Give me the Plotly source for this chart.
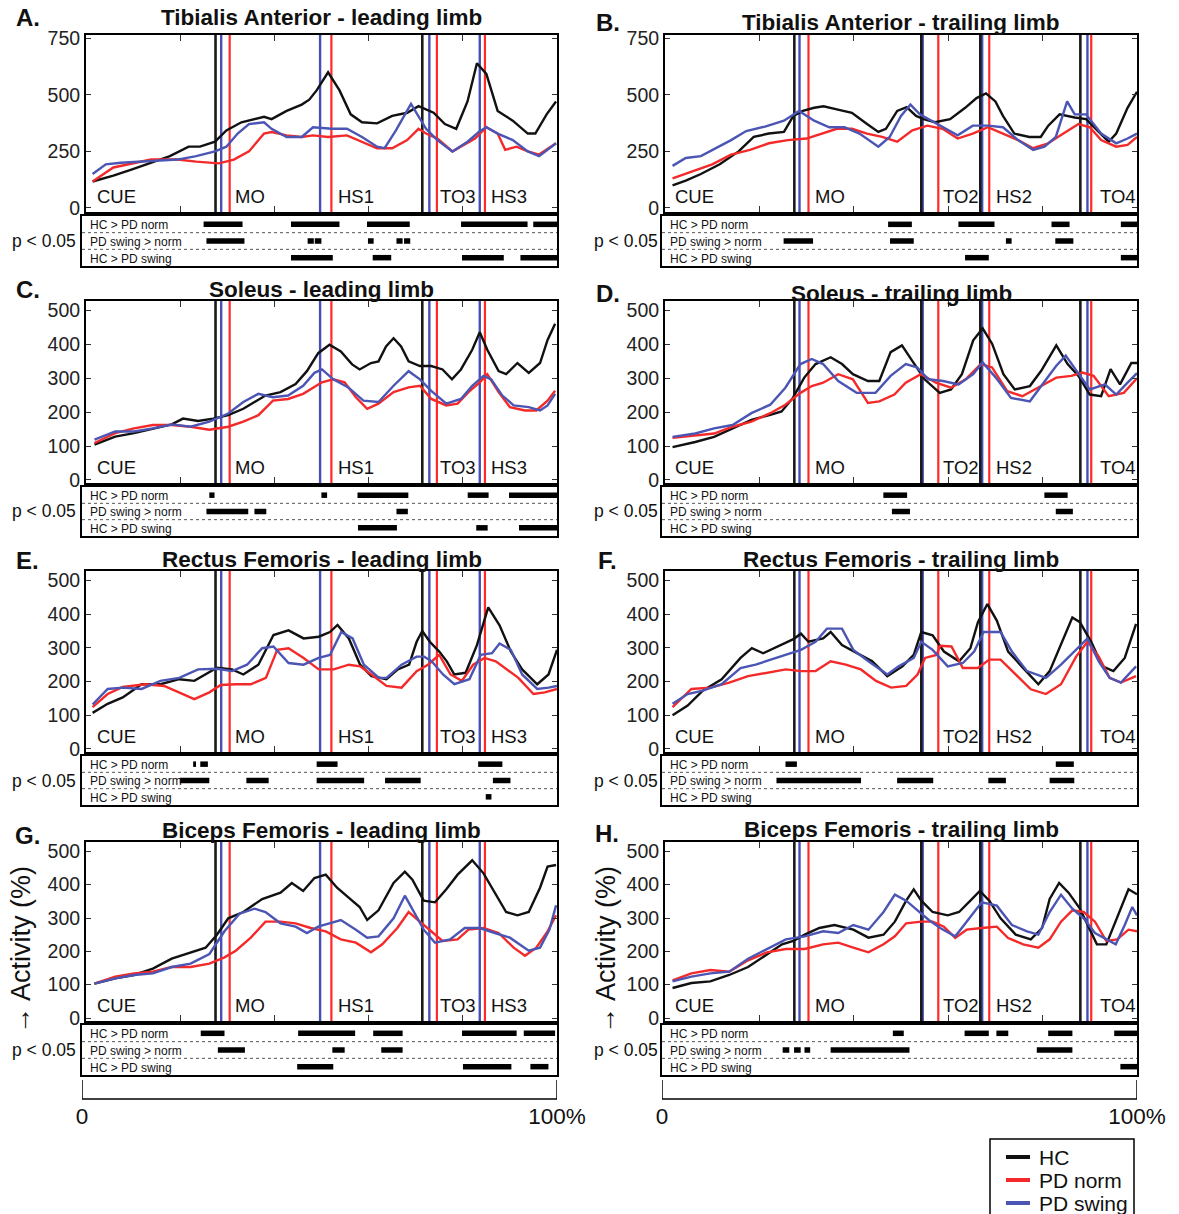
import plotly.graph_objects as go

W, H = 1179, 1214

# ---------------- data ----------------
SERIES_NAMES = ["HC", "PD norm", "PD swing"]
SERIES_COLORS = ["#111111", "#f42a2a", "#4b55b4"]

PANEL_LETTERS = ["A.", "B.", "C.", "D.", "E.", "F.", "G.", "H."]
PANEL_TITLES = [
    "Tibialis Anterior - leading limb", "Tibialis Anterior - trailing limb",
    "Soleus - leading limb", "Soleus - trailing limb",
    "Rectus Femoris - leading limb", "Rectus Femoris - trailing limb",
    "Biceps Femoris - leading limb", "Biceps Femoris - trailing limb",
]
TICKS_TA = [0, 250, 500, 750]
TICKS_OTHER = [0, 100, 200, 300, 400, 500]
SIG_LABELS = ["HC > PD norm", "PD swing > norm", "HC > PD swing"]
BRACKET_TICKS = [0, 100]
BRACKET_LABELS = ["0", "100%"]

# event markers (percent of movement)
LEAD_BLACK = [27.5, 71.4]
LEAD_BLUE = [28.7, 49.7, 72.9, 83.6]
LEAD_RED = [30.5, 52.1, 74.5, 84.7]
LEAD_LABELS = ["CUE", "MO", "HS1", "TO3", "HS3"]
LEAD_LABEL_X = [2.0, 31.2, 53.0, 74.8, 85.6]
TRAIL_BLACK = [27.4, 54.3, 66.8, 88.0]
TRAIL_BLUE = [28.5, 54.6, 67.2, 89.5]
TRAIL_RED = [30.4, 57.9, 68.7, 90.3]
TRAIL_LABELS = ["CUE", "MO", "TO2", "HS2", "TO4"]
TRAIL_LABEL_X = [1.6, 31.4, 58.4, 69.8, 91.8]

# ---- A: Tibialis Anterior leading
A_X_HC = [1.4, 5.8, 9.8, 13.8, 17.8, 21.8, 24.2, 27.4, 29.8, 33.0, 37.8, 39.4, 42.6, 45.8, 47.4, 49.0, 51.4, 53.8, 56.2, 58.6, 61.8, 65.0, 68.2, 70.6, 71.4, 73.8, 76.2, 78.6, 81.0, 83.0, 85.0, 87.4, 90.6, 93.8, 95.4, 97.8, 99.8]
A_HC = [117, 143, 171, 200, 229, 271, 271, 293, 343, 379, 403, 393, 429, 457, 479, 521, 600, 521, 414, 379, 374, 407, 421, 450, 443, 421, 371, 350, 471, 640, 593, 429, 386, 329, 329, 414, 471]
A_X_NORM = [1.4, 5.8, 13.8, 19.4, 23.4, 28.2, 31.4, 34.6, 37.8, 39.4, 42.6, 45.8, 48.2, 51.4, 55.4, 58.6, 61.8, 65.0, 68.2, 70.6, 72.2, 74.6, 77.8, 80.2, 82.6, 85.0, 87.4, 89.0, 91.4, 93.8, 96.2, 99.8]
A_NORM = [117, 179, 214, 214, 205, 197, 214, 250, 329, 336, 321, 314, 321, 314, 321, 293, 264, 264, 300, 350, 329, 307, 250, 279, 307, 357, 329, 257, 271, 250, 236, 286]
A_X_SWING = [1.4, 4.2, 7.4, 13.8, 19.4, 23.4, 27.4, 29.8, 32.2, 34.6, 37.8, 39.4, 42.6, 45.8, 48.2, 52.2, 55.4, 58.6, 61.8, 63.4, 65.8, 69.0, 70.6, 72.2, 74.6, 77.8, 81.0, 83.4, 85.0, 87.4, 90.6, 93.8, 96.2, 99.8]
A_SWING = [150, 193, 200, 207, 214, 229, 250, 271, 329, 371, 379, 350, 314, 314, 357, 350, 350, 314, 271, 264, 343, 460, 407, 350, 300, 250, 293, 336, 357, 329, 300, 250, 229, 286]
A_SIG_1 = [(25.6, 33.8), (44.0, 54.2), (60.0, 69.0), (79.8, 93.8), (95.0, 100)]
A_SIG_2 = [(26.2, 34.2), (47.5, 48.8), (49.0, 50.4), (60.2, 61.4), (66.2, 67.5), (67.8, 69.1)]
A_SIG_3 = [(44.0, 52.8), (61.2, 65.1), (80.0, 88.8), (92.3, 100)]

# ---- B: Tibialis Anterior trailing
B_X_HC = [1.6, 4.4, 7.6, 11.6, 15.6, 18.8, 22.0, 25.2, 27.2, 29.2, 31.6, 33.6, 36.4, 39.6, 42.8, 45.2, 46.8, 49.2, 51.2, 53.2, 54.8, 57.2, 60.4, 63.6, 66.0, 68.0, 70.0, 71.6, 74.0, 77.2, 79.6, 81.2, 83.6, 86.8, 89.2, 91.6, 94.0, 95.6, 98.0, 100]
B_HC = [100, 121, 150, 193, 250, 314, 329, 336, 407, 429, 443, 450, 436, 421, 371, 336, 350, 429, 446, 407, 393, 379, 393, 443, 486, 507, 471, 407, 329, 314, 314, 364, 414, 400, 393, 343, 293, 329, 443, 514]
B_X_NORM = [1.6, 6.0, 10.0, 14.0, 18.0, 22.0, 26.0, 30.0, 33.2, 36.4, 39.6, 42.8, 46.0, 49.2, 52.4, 55.6, 58.8, 62.0, 65.2, 68.4, 71.6, 74.8, 78.0, 81.2, 84.4, 87.6, 90.0, 92.4, 95.6, 98.0, 100]
B_NORM = [131, 164, 193, 236, 257, 286, 300, 307, 329, 350, 350, 329, 314, 293, 343, 364, 350, 307, 329, 357, 329, 300, 264, 286, 329, 371, 357, 300, 271, 279, 314]
B_X_SWING = [1.6, 4.4, 7.6, 10.8, 14.0, 17.2, 21.2, 25.2, 28.4, 31.6, 34.8, 38.0, 41.2, 45.2, 47.6, 50.0, 52.0, 54.0, 56.4, 58.8, 62.0, 65.2, 68.4, 71.6, 74.8, 78.0, 80.4, 82.8, 85.2, 86.8, 89.2, 92.4, 95.6, 98.0, 100]
B_SWING = [186, 221, 229, 264, 300, 340, 360, 386, 429, 386, 357, 357, 329, 271, 314, 407, 457, 414, 386, 357, 321, 364, 364, 357, 300, 257, 271, 314, 471, 414, 414, 329, 286, 307, 329]
B_SIG_1 = [(47.6, 52.6), (62.4, 70.0), (82.0, 85.8), (96.6, 100)]
B_SIG_2 = [(25.6, 31.8), (48.0, 53.0), (72.4, 73.6), (82.8, 86.6)]
B_SIG_3 = [(63.8, 68.8), (96.6, 100)]

# ---- C: Soleus leading
C_X_HC = [1.8, 6.2, 10.2, 14.2, 18.2, 20.6, 23.8, 27.0, 30.2, 33.4, 38.1, 41.3, 44.5, 46.9, 49.3, 51.7, 54.1, 56.5, 58.1, 60.5, 62.1, 63.7, 65.3, 66.9, 68.5, 70.9, 73.3, 75.7, 77.7, 79.6, 82.0, 83.6, 85.2, 87.6, 89.2, 91.6, 94.0, 96.4, 98.0, 99.6]
C_HC = [104, 128, 138, 152, 164, 181, 174, 181, 191, 210, 249, 259, 283, 321, 374, 399, 379, 341, 326, 345, 350, 394, 418, 394, 350, 336, 336, 326, 297, 326, 384, 436, 384, 321, 312, 345, 316, 345, 413, 461]
C_X_NORM = [1.8, 6.2, 10.2, 14.2, 18.2, 22.2, 26.2, 30.2, 33.4, 36.6, 39.7, 42.9, 46.1, 50.1, 52.5, 54.9, 57.3, 59.7, 62.1, 65.3, 68.5, 70.9, 73.3, 76.5, 78.9, 81.2, 83.6, 85.2, 87.6, 90.0, 93.2, 95.6, 98.0, 99.6]
C_NORM = [109, 138, 152, 162, 162, 157, 148, 157, 172, 191, 234, 239, 254, 288, 297, 288, 244, 210, 225, 259, 273, 278, 239, 220, 225, 259, 288, 312, 259, 215, 205, 205, 234, 263]
C_X_SWING = [1.8, 6.2, 10.2, 14.2, 18.2, 22.2, 26.2, 30.2, 33.4, 36.6, 39.7, 42.9, 46.1, 48.5, 50.1, 52.5, 55.7, 58.9, 62.1, 65.3, 68.5, 70.9, 73.3, 76.5, 79.6, 82.0, 84.4, 86.0, 88.4, 90.8, 94.0, 96.4, 98.0, 99.6]
C_SWING = [119, 143, 143, 152, 164, 157, 172, 196, 230, 254, 244, 249, 278, 316, 326, 297, 273, 234, 230, 278, 321, 297, 263, 225, 239, 278, 307, 297, 249, 220, 215, 205, 220, 254]
C_SIG_1 = [(26.8, 27.9), (50.4, 51.6), (58.0, 68.7), (81.2, 85.6), (89.9, 100)]
C_SIG_2 = [(26.2, 35.0), (36.3, 38.8), (66.2, 68.6)]
C_SIG_3 = [(58.1, 66.3), (83.0, 85.4), (92.0, 100)]

# ---- D: Soleus trailing
D_X_HC = [1.6, 6.4, 10.4, 14.3, 18.3, 22.3, 24.7, 27.1, 29.5, 31.9, 35.1, 37.5, 39.8, 43.0, 45.4, 47.8, 50.2, 52.6, 55.0, 58.2, 60.6, 62.9, 65.3, 67.3, 69.3, 71.7, 74.1, 77.3, 79.7, 82.9, 85.3, 87.6, 90.0, 92.4, 94.4, 96.4, 98.8, 100]
D_HC = [97, 112, 127, 152, 177, 192, 202, 242, 302, 342, 362, 342, 312, 292, 292, 377, 397, 347, 297, 257, 267, 312, 412, 447, 402, 312, 267, 277, 322, 397, 342, 307, 252, 247, 327, 282, 345, 345]
D_X_NORM = [1.6, 6.4, 10.4, 14.3, 18.3, 22.3, 25.5, 28.7, 31.1, 33.5, 36.7, 39.8, 43.0, 45.4, 48.6, 51.0, 54.2, 57.4, 60.6, 63.7, 66.9, 69.3, 72.5, 75.7, 78.9, 82.9, 86.1, 88.4, 90.8, 94.0, 97.2, 100]
D_NORM = [124, 132, 137, 157, 172, 197, 222, 257, 277, 287, 312, 297, 227, 232, 252, 287, 312, 287, 272, 297, 342, 332, 262, 247, 272, 302, 307, 317, 307, 247, 257, 300]
D_X_SWING = [1.6, 6.4, 10.4, 14.3, 18.3, 22.3, 25.5, 28.7, 31.1, 33.5, 36.7, 40.6, 44.6, 47.8, 51.0, 53.4, 55.8, 58.9, 62.2, 65.3, 67.3, 70.1, 73.3, 77.3, 80.5, 82.9, 84.9, 87.6, 90.0, 93.2, 95.6, 98.0, 100]
D_SWING = [127, 137, 152, 162, 197, 222, 272, 342, 357, 342, 292, 257, 257, 307, 342, 332, 297, 292, 282, 312, 347, 302, 242, 232, 292, 337, 367, 312, 267, 282, 252, 287, 315]
D_SIG_1 = [(46.6, 51.6), (80.5, 85.4)]
D_SIG_2 = [(48.4, 52.2), (82.9, 86.5)]
D_SIG_3 = []

# ---- E: Rectus Femoris leading
E_X_HC = [1.4, 4.6, 7.8, 11.8, 15.8, 19.8, 23.0, 25.4, 27.8, 31.0, 33.4, 36.6, 39.8, 43.0, 46.2, 49.4, 51.8, 53.4, 55.8, 58.2, 60.6, 63.8, 66.2, 68.6, 70.2, 71.4, 73.0, 75.0, 76.6, 78.2, 80.6, 83.0, 85.4, 87.8, 90.2, 92.6, 95.8, 98.2, 100]
E_HC = [107, 134, 153, 192, 192, 207, 202, 221, 241, 236, 221, 250, 338, 352, 328, 333, 347, 368, 328, 250, 216, 207, 236, 250, 318, 350, 318, 289, 260, 221, 226, 308, 420, 367, 289, 236, 192, 221, 294]
E_X_NORM = [1.4, 4.6, 7.8, 12.6, 16.6, 19.8, 23.0, 26.2, 28.6, 31.8, 35.0, 38.2, 40.6, 43.0, 46.2, 49.4, 52.6, 55.8, 58.2, 60.6, 63.8, 67.0, 70.2, 72.6, 75.0, 77.4, 79.8, 82.2, 84.6, 87.0, 89.4, 91.8, 95.0, 97.4, 100]
E_NORM = [124, 163, 184, 192, 187, 168, 148, 168, 190, 192, 192, 211, 294, 299, 270, 236, 236, 250, 245, 221, 187, 182, 231, 250, 279, 221, 202, 250, 270, 260, 236, 211, 163, 168, 178]
E_X_SWING = [1.4, 4.6, 7.8, 11.8, 15.8, 19.8, 23.8, 27.8, 31.0, 34.2, 37.4, 39.8, 43.0, 46.2, 49.4, 51.8, 54.2, 56.6, 59.0, 62.2, 63.8, 67.0, 70.2, 71.8, 73.4, 75.8, 78.2, 81.4, 83.8, 86.2, 87.8, 90.2, 92.6, 95.8, 98.2, 100]
E_SWING = [132, 178, 182, 178, 202, 211, 236, 238, 231, 250, 299, 304, 255, 250, 270, 279, 347, 328, 250, 211, 211, 250, 274, 274, 260, 221, 192, 207, 279, 284, 313, 294, 221, 178, 182, 187]
E_SIG_1 = [(23.4, 24.0), (24.9, 26.5), (49.4, 53.8), (83.4, 88.5)]
E_SIG_2 = [(20.6, 26.8), (34.6, 39.3), (49.4, 59.4), (63.8, 71.3), (86.5, 90.2)]
E_SIG_3 = [(85.0, 86.2)]

# ---- F: Rectus Femoris trailing
F_X_HC = [1.6, 4.8, 8.0, 12.0, 16.0, 18.4, 20.8, 24.0, 27.2, 28.8, 30.4, 33.5, 35.1, 37.5, 40.7, 43.9, 47.1, 50.3, 52.7, 54.3, 56.7, 59.1, 62.3, 64.7, 66.3, 68.3, 70.3, 72.7, 75.9, 79.1, 81.5, 83.9, 86.3, 87.9, 90.3, 92.7, 95.0, 97.4, 99.8]
F_HC = [100, 129, 173, 207, 270, 299, 284, 304, 326, 342, 318, 328, 347, 308, 284, 260, 216, 245, 279, 347, 337, 289, 260, 299, 376, 430, 381, 289, 240, 192, 231, 308, 390, 376, 318, 245, 231, 270, 371]
F_X_NORM = [1.6, 5.6, 9.6, 13.6, 17.6, 21.6, 25.6, 28.8, 31.9, 35.1, 38.3, 41.5, 44.7, 47.9, 51.1, 53.5, 55.1, 57.5, 58.3, 60.7, 63.1, 66.3, 68.7, 71.1, 74.3, 77.5, 80.7, 83.9, 87.1, 89.5, 91.9, 94.2, 96.6, 99.8]
F_NORM = [124, 178, 182, 197, 216, 226, 236, 231, 231, 260, 250, 236, 202, 182, 187, 221, 270, 279, 306, 304, 240, 240, 265, 265, 221, 177, 163, 192, 274, 318, 274, 211, 197, 216]
F_X_SWING = [1.6, 4.8, 8.0, 12.0, 16.0, 19.2, 22.4, 25.6, 28.8, 31.9, 34.3, 37.5, 39.9, 43.1, 47.1, 49.5, 52.7, 54.3, 56.7, 59.9, 63.1, 65.5, 67.5, 71.1, 73.5, 76.7, 80.7, 83.9, 87.1, 89.5, 91.9, 94.2, 96.6, 99.8]
F_SWING = [134, 163, 173, 192, 240, 250, 265, 279, 294, 318, 357, 357, 294, 260, 221, 245, 270, 318, 294, 245, 255, 289, 347, 347, 289, 231, 211, 250, 294, 328, 260, 211, 197, 245]
F_SIG_1 = [(26.0, 28.4), (82.9, 86.7)]
F_SIG_2 = [(24.1, 41.9), (49.5, 57.1), (68.7, 72.4), (81.6, 86.8)]
F_SIG_3 = []

# ---- G: Biceps Femoris leading
G_X_HC = [1.8, 6.2, 10.2, 14.2, 18.2, 22.2, 25.4, 27.8, 30.2, 33.4, 37.4, 41.3, 43.7, 46.1, 48.5, 50.9, 53.3, 55.7, 58.1, 59.7, 62.1, 65.3, 67.7, 69.3, 71.7, 74.1, 76.5, 78.9, 82.0, 84.4, 86.8, 89.2, 91.6, 94.0, 96.4, 98.0, 99.8]
G_HC = [103, 119, 129, 148, 178, 197, 211, 250, 299, 318, 357, 376, 405, 381, 420, 430, 391, 362, 333, 294, 323, 405, 439, 415, 352, 347, 386, 430, 473, 434, 376, 318, 308, 318, 391, 454, 459]
G_X_NORM = [1.8, 6.2, 10.2, 14.2, 18.2, 22.2, 26.2, 29.4, 31.8, 35.0, 38.1, 41.3, 44.5, 47.7, 50.9, 54.1, 57.3, 60.5, 62.9, 66.1, 68.5, 70.9, 73.3, 75.7, 78.9, 81.2, 84.4, 87.6, 90.8, 93.2, 95.6, 98.0, 99.8]
G_NORM = [103, 124, 134, 139, 153, 153, 163, 182, 202, 241, 289, 289, 284, 270, 260, 236, 226, 197, 221, 270, 318, 289, 260, 231, 236, 265, 270, 255, 211, 187, 211, 260, 308]
G_X_SWING = [1.8, 6.2, 10.2, 14.2, 18.2, 22.2, 26.2, 29.4, 32.6, 35.8, 38.1, 41.3, 44.5, 46.9, 49.3, 51.7, 54.1, 57.3, 59.7, 62.1, 65.3, 67.7, 69.3, 71.7, 74.1, 77.3, 80.4, 83.6, 86.8, 90.0, 94.0, 96.4, 98.4, 99.8]
G_SWING = [103, 119, 129, 134, 153, 163, 192, 260, 313, 328, 318, 284, 274, 255, 274, 284, 294, 265, 241, 245, 299, 367, 328, 265, 226, 236, 270, 270, 255, 241, 202, 211, 265, 338]
G_SIG_1 = [(25.0, 30.0), (45.5, 57.5), (61.3, 67.5), (80.0, 91.5), (93.0, 99.6)]
G_SIG_2 = [(28.6, 34.3), (52.7, 55.3), (63.0, 67.5)]
G_SIG_3 = [(45.3, 52.9), (80.2, 90.4), (94.4, 98.2)]

# ---- H: Biceps Femoris trailing
H_X_HC = [1.6, 5.6, 9.6, 13.6, 17.6, 21.6, 24.8, 27.2, 29.6, 32.7, 35.9, 39.9, 43.1, 46.3, 48.7, 51.1, 52.7, 54.3, 56.7, 59.9, 62.3, 64.7, 66.7, 68.7, 71.1, 74.3, 77.5, 79.9, 81.5, 83.5, 85.5, 87.9, 89.5, 91.5, 93.5, 95.8, 98.2, 100]
H_HC = [90, 105, 110, 129, 153, 192, 221, 231, 250, 270, 279, 265, 241, 250, 289, 352, 386, 352, 318, 308, 318, 352, 381, 352, 299, 250, 236, 270, 357, 405, 376, 328, 279, 221, 221, 299, 386, 371]
H_X_NORM = [1.6, 5.6, 9.6, 13.6, 17.6, 21.6, 25.6, 29.6, 33.5, 36.7, 39.9, 43.1, 46.3, 48.7, 51.1, 54.3, 56.7, 59.1, 61.5, 63.9, 67.1, 70.3, 72.7, 75.9, 79.1, 81.5, 83.9, 86.3, 88.7, 91.1, 93.5, 95.8, 98.2, 100]
H_NORM = [113, 134, 144, 139, 173, 197, 207, 207, 221, 226, 211, 197, 221, 245, 284, 289, 289, 274, 240, 265, 270, 274, 240, 221, 211, 236, 289, 323, 318, 289, 231, 236, 265, 260]
H_X_SWING = [1.6, 5.6, 9.6, 13.6, 17.6, 21.6, 25.6, 29.6, 33.5, 36.7, 39.9, 43.1, 46.3, 48.7, 51.1, 53.5, 55.9, 58.3, 61.5, 63.9, 67.1, 70.3, 73.5, 76.7, 79.1, 81.5, 83.9, 86.3, 88.7, 91.1, 93.5, 95.5, 97.4, 99.0, 100]
H_SWING = [110, 124, 134, 139, 178, 207, 236, 245, 260, 255, 279, 265, 318, 370, 352, 323, 294, 270, 245, 289, 347, 337, 279, 260, 250, 318, 370, 328, 299, 255, 236, 221, 279, 333, 308]
H_SIG_1 = [(48.6, 50.9), (63.7, 68.8), (70.4, 72.9), (81.3, 86.4), (95.2, 100)]
H_SIG_2 = [(25.4, 26.8), (27.8, 29.2), (30.0, 31.2), (35.5, 52.1), (78.9, 86.4)]
H_SIG_3 = [(96.5, 100)]

# ---------------- assemble ----------------
PANELS = [
    ((A_X_HC, A_HC), (A_X_NORM, A_NORM), (A_X_SWING, A_SWING), (A_SIG_1, A_SIG_2, A_SIG_3)),
    ((B_X_HC, B_HC), (B_X_NORM, B_NORM), (B_X_SWING, B_SWING), (B_SIG_1, B_SIG_2, B_SIG_3)),
    ((C_X_HC, C_HC), (C_X_NORM, C_NORM), (C_X_SWING, C_SWING), (C_SIG_1, C_SIG_2, C_SIG_3)),
    ((D_X_HC, D_HC), (D_X_NORM, D_NORM), (D_X_SWING, D_SWING), (D_SIG_1, D_SIG_2, D_SIG_3)),
    ((E_X_HC, E_HC), (E_X_NORM, E_NORM), (E_X_SWING, E_SWING), (E_SIG_1, E_SIG_2, E_SIG_3)),
    ((F_X_HC, F_HC), (F_X_NORM, F_NORM), (F_X_SWING, F_SWING), (F_SIG_1, F_SIG_2, F_SIG_3)),
    ((G_X_HC, G_HC), (G_X_NORM, G_NORM), (G_X_SWING, G_SWING), (G_SIG_1, G_SIG_2, G_SIG_3)),
    ((H_X_HC, H_HC), (H_X_NORM, H_NORM), (H_X_SWING, H_SWING), (H_SIG_1, H_SIG_2, H_SIG_3)),
]

# layout geometry in window pixels
MAIN_X = [(86, 557), (665, 1137)]
SIG_X = [(82, 557), (662, 1137)]
ROWS_MAIN = [(35, 212), (301, 483), (571, 752), (842, 1021)]
ROWS_SIG = [(216, 266), (487, 536), (756, 805), (1025, 1075)]
BRACKET_Y = (1080, 1099)
TITLE_Y = [[18, 22], [289, 293], [559, 559], [830, 829]]
LETTER_POS = [[(28, 18), (608, 22)], [(28, 289), (608, 293)], [(27, 560), (607, 560)], [(27, 835), (607, 833)]]
LEGEND_BOX = (990, 1134, 1139, 1240)
LEGEND_ROWS_Y = [1157, 1180, 1203]
LEGEND_LINE_X = (1006, 1030)
LEGEND_TEXT_X = 1037

FONT = "Liberation Sans, Arial, Helvetica, sans-serif"
NARROW = "Liberation Sans Narrow, Arial Narrow, Liberation Sans, Arial, sans-serif"


def fx(p):
    return p / W


def fy(p):
    return 1 - p / H


def sfx(n):
    return "" if n == 1 else str(n)


fig = go.Figure()
layout = dict(
    width=W, height=H, margin=dict(l=0, r=0, t=0, b=0, pad=0, autoexpand=False),
    paper_bgcolor="white", plot_bgcolor="white",
    font=dict(family=FONT, color="#111"),
    showlegend=False,
)
shapes = []
annotations = []

for i, (hc, nm, sw, sigs) in enumerate(PANELS):
    row, col = divmod(i, 2)
    ax = sfx(i + 1)
    sax = sfx(i + 9)
    lead = col == 0
    ticks = TICKS_TA if row == 0 else TICKS_OTHER
    yr = [-18, 765] if row == 0 else [-9, 528]

    for k, (xs, ys) in enumerate((hc, nm, sw)):
        fig.add_trace(go.Scatter(
            x=xs, y=ys, mode="lines", name=SERIES_NAMES[k],
            line=dict(color=SERIES_COLORS[k], width=2.4),
            xaxis=f"x{ax}", yaxis=f"y{ax}", hoverinfo="skip"))

    mx0, mx1 = MAIN_X[col]
    my0, my1 = ROWS_MAIN[row]
    layout[f"xaxis{ax}"] = dict(
        domain=[fx(mx0), fx(mx1)], range=[0, 100], anchor=f"y{ax}",
        showline=True, linecolor="black", linewidth=2, mirror="ticks",
        ticks="inside", tickvals=[20, 40, 60, 80], ticklen=6, tickcolor="#333",
        showticklabels=False, showgrid=False, zeroline=False)
    layout[f"yaxis{ax}"] = dict(
        domain=[fy(my1), fy(my0)], range=yr, anchor=f"x{ax}",
        showline=True, linecolor="black", linewidth=2, mirror="ticks",
        ticks="inside", tickvals=ticks, ticklen=5, tickcolor="#333",
        tickfont=dict(size=19.5, family=FONT, color="#222"),
        showgrid=False, zeroline=False)

    # event lines
    blacks = LEAD_BLACK if lead else TRAIL_BLACK
    blues = LEAD_BLUE if lead else TRAIL_BLUE
    reds = LEAD_RED if lead else TRAIL_RED
    for pos_list, colr, wdt in ((reds, "#ff2a2a", 2.2), (blues, "#4650b4", 2.4), (blacks, "#1a1a1a", 2.6)):
        for p in pos_list:
            shapes.append(dict(type="line", xref=f"x{ax}", yref=f"y{ax} domain",
                               x0=p, x1=p, y0=0, y1=1, layer="below",
                               line=dict(color=colr, width=wdt)))
    labels = LEAD_LABELS if lead else TRAIL_LABELS
    label_x = LEAD_LABEL_X if lead else TRAIL_LABEL_X
    for lab, lx in zip(labels, label_x):
        annotations.append(dict(text=lab, xref=f"x{ax}", yref=f"y{ax} domain",
                                x=lx, y=0.085, xanchor="left", yanchor="middle",
                                showarrow=False, font=dict(size=18.5, color="#111")))

    # significance panel
    sx0, sx1 = SIG_X[col]
    sy0, sy1 = ROWS_SIG[row]
    layout[f"xaxis{sax}"] = dict(
        domain=[fx(sx0), fx(sx1)], range=[0, 100], anchor=f"y{sax}",
        showline=True, linecolor="black", linewidth=2, mirror=True,
        ticks="", showticklabels=False, showgrid=False, zeroline=False)
    layout[f"yaxis{sax}"] = dict(
        domain=[fy(sy1), fy(sy0)], range=[0, 3], anchor=f"x{sax}",
        showline=True, linecolor="black", linewidth=2, mirror=True,
        ticks="", showticklabels=False, showgrid=False, zeroline=False)
    for r, bars in enumerate(sigs):
        yc = 2.5 - r
        xs, ys = [], []
        for s, e in bars:
            xs += [s, e, None]
            ys += [yc, yc, None]
        if not xs:
            xs, ys = [None], [None]
        fig.add_trace(go.Scatter(x=xs, y=ys, mode="lines",
                                 line=dict(color="black", width=5.5),
                                 xaxis=f"x{sax}", yaxis=f"y{sax}", hoverinfo="skip"))
        annotations.append(dict(text=SIG_LABELS[r], xref=f"x{sax} domain", yref=f"y{sax}",
                                x=0.012, y=yc - 0.05, xanchor="left", yanchor="middle",
                                showarrow=False, font=dict(size=12, family=NARROW, color="#111")))
    for yl in (1, 2):
        shapes.append(dict(type="line", xref=f"x{sax} domain", yref=f"y{sax}",
                           x0=0, x1=1, y0=yl, y1=yl,
                           line=dict(color="#555", width=1, dash="dot")))
    annotations.append(dict(text="p < 0.05", xref="paper", yref="paper",
                            x=fx(44 if lead else 626), y=fy((sy0 + sy1) / 2),
                            xanchor="center", yanchor="middle", showarrow=False,
                            font=dict(size=17.5, color="#111")))

    # titles and letters
    annotations.append(dict(text=f"<b>{PANEL_TITLES[i]}</b>", xref="paper", yref="paper",
                            x=fx((mx0 + mx1) / 2), y=fy(TITLE_Y[row][col]),
                            xanchor="center", yanchor="middle", showarrow=False,
                            font=dict(size=22.5, color="#111")))
    lx, ly = LETTER_POS[row][col]
    annotations.append(dict(text=f"<b>{PANEL_LETTERS[i]}</b>", xref="paper", yref="paper",
                            x=fx(lx), y=fy(ly), xanchor="center", yanchor="middle",
                            showarrow=False, font=dict(size=24, color="#111")))

# y-axis title on bottom row
for xpos in (21, 606):
    annotations.append(dict(text="→ Activity (%)", xref="paper", yref="paper",
                            x=fx(xpos), y=fy(950), xanchor="center", yanchor="middle",
                            textangle=-90, showarrow=False,
                            font=dict(size=27, color="#111")))

# bottom 0–100% brackets (time axis)
for j, (bx0, bx1) in enumerate(SIG_X):
    bax = str(17 + j)
    layout[f"xaxis{bax}"] = dict(
        domain=[fx(bx0), fx(bx1)], range=[0, 100], anchor=f"y{bax}",
        showline=False, ticks="",
        tickvals=BRACKET_TICKS, ticktext=BRACKET_LABELS, ticklabelstandoff=1,
        tickfont=dict(size=22.5, family=FONT, color="#111"),
        showgrid=False, zeroline=False)
    layout[f"yaxis{bax}"] = dict(
        domain=[fy(BRACKET_Y[1]), fy(BRACKET_Y[0])], range=[0, 1], anchor=f"x{bax}",
        showline=False, ticks="", showticklabels=False, showgrid=False, zeroline=False)
    fig.add_trace(go.Scatter(x=[None], y=[None], mode="lines", xaxis=f"x{bax}",
                             yaxis=f"y{bax}", hoverinfo="skip"))
    # bracket: baseline plus end ticks at 0 and 100 %
    shapes.append(dict(type="line", xref=f"x{bax}", yref=f"y{bax} domain",
                       x0=BRACKET_TICKS[0], x1=BRACKET_TICKS[-1], y0=0, y1=0,
                       line=dict(color="black", width=1.5)))
    for t in BRACKET_TICKS:
        shapes.append(dict(type="line", xref=f"x{bax}", yref=f"y{bax} domain",
                           x0=t, x1=t, y0=0, y1=1,
                           line=dict(color="black", width=1.5)))

# legend box (drawn manually to match the compact original)
lb_x0, lb_x1, lb_y0, lb_y1 = LEGEND_BOX
shapes.append(dict(type="rect", xref="paper", yref="paper",
                   x0=fx(lb_x0), x1=fx(lb_x1), y0=fy(lb_y1), y1=fy(lb_y0),
                   line=dict(color="black", width=1.5), fillcolor="white", layer="above"))
for k, name in enumerate(SERIES_NAMES):
    yy = fy(LEGEND_ROWS_Y[k])
    shapes.append(dict(type="line", xref="paper", yref="paper",
                       x0=fx(LEGEND_LINE_X[0]), x1=fx(LEGEND_LINE_X[1]), y0=yy, y1=yy,
                       line=dict(color=SERIES_COLORS[k], width=4), layer="above"))
    annotations.append(dict(text=name, xref="paper", yref="paper",
                            x=fx(LEGEND_TEXT_X), y=yy, xanchor="left", yanchor="middle",
                            showarrow=False, font=dict(size=21, color="#111")))

layout["shapes"] = shapes
layout["annotations"] = annotations
fig.update_layout(**layout)

fig.write_html("out.html", config={"displayModeBar": False},
               post_script="document.body.style.margin='0';")
